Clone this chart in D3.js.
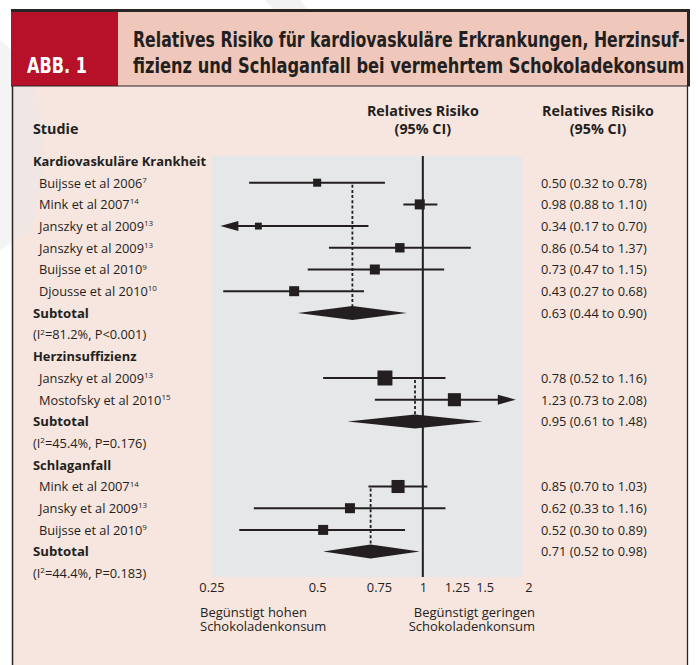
<!DOCTYPE html>
<html>
<head>
<meta charset="utf-8">
<script src="https://cdn.jsdelivr.net/npm/d3@7"></script>
<style>
  html, body { margin: 0; padding: 0; background: #ffffff; }
  svg { display: block; }
</style>
</head>
<body>
<svg id="chart" width="699" height="665"></svg>
<script>
// ---------------- DATA ----------------
const figureLabel = "ABB. 1";
const titleLines = [
  "Relatives Risiko für kardiovaskuläre Erkrankungen, Herzinsuf-",
  "fizienz und Schlaganfall bei vermehrtem Schokoladekonsum"
];
const studyHeader = "Studie";
const rrHeader = ["Relatives Risiko", "(95% CI)"];

const groupNames = ["Kardiovaskuläre Krankheit", "Herzinsuffizienz", "Schlaganfall"];

const studyNames = [
  ["Buijsse et al 2006", "Mink et al 2007", "Janszky et al 2009", "Janszky et al 2009", "Buijsse et al 2010", "Djousse et al 2010"],
  ["Janszky et al 2009", "Mostofsky et al 2010"],
  ["Mink et al 2007", "Jansky et al 2009", "Buijsse et al 2010"]
];
const studyRefs = [
  ["7", "14", "13", "13", "9", "10"],
  ["13", "15"],
  ["14", "13", "9"]
];
const studyRR = [
  [0.50, 0.98, 0.34, 0.86, 0.73, 0.43],
  [0.78, 1.23],
  [0.85, 0.62, 0.52]
];
const studyLo = [
  [0.32, 0.88, 0.17, 0.54, 0.47, 0.27],
  [0.52, 0.73],
  [0.70, 0.33, 0.30]
];
const studyHi = [
  [0.78, 1.10, 0.70, 1.37, 1.15, 0.68],
  [1.16, 2.08],
  [1.03, 1.16, 0.89]
];
// estimated study weights (marker area)
const studyWeights = [
  [11, 17, 8, 15, 17, 17],
  [38, 29],
  [29, 17, 17]
];

const subtotalLabel = "Subtotal";
const subtotalRR = [0.63, 0.95, 0.71];
const subtotalLo = [0.44, 0.61, 0.52];
const subtotalHi = [0.90, 1.48, 0.98];
const hetI2 = ["81.2%", "45.4%", "44.4%"];
const hetP = ["P<0.001", "P=0.176", "P=0.183"];

const tickValues = [0.25, 0.5, 0.75, 1, 1.25, 1.5, 2];
const tickLabels = ["0.25", "0.5", "0.75", "1", "1.25", "1.5", "2"];
const axisDomain = [0.25, 2];
const clipRange = [0.265, 1.84];   // where out-of-range CIs end in arrows

const favourLeft = ["Begünstigt hohen", "Schokoladenkonsum"];
const favourRight = ["Begünstigt geringen", "Schokoladenkonsum"];

// ---------------- STYLE ----------------
const C = {
  red: "#b7112a",
  headPink: "#efc8bb",
  panel: "#f7e5df",
  grey: "#e6e7e9",
  ink: "#231f20",
  border: "#2b2526"
};
const bodyFont = "'Open Sans', 'Noto Sans', sans-serif";
const titleFont = "'Liberation Sans Narrow', 'DejaVu Sans Condensed', 'Roboto', sans-serif";

// ---------------- BUILD ROWS ----------------
const rows = [];
groupNames.forEach((g, gi) => {
  rows.push({ type: "group", label: g, gi });
  studyNames[gi].forEach((n, si) => {
    rows.push({ type: "study", label: n, ref: studyRefs[gi][si], rr: studyRR[gi][si],
      lo: studyLo[gi][si], hi: studyHi[gi][si], w: studyWeights[gi][si], gi, si });
  });
  rows.push({ type: "subtotal", label: subtotalLabel, rr: subtotalRR[gi], lo: subtotalLo[gi], hi: subtotalHi[gi], gi });
  rows.push({ type: "het", gi });
});

// ---------------- LAYOUT ----------------
const svg = d3.select("#chart");
const W = 699, H = 665;
const rowTop = 161, rowStep = 21.7;
const y = i => rowTop + i * rowStep;
const plot = { x0: 211.5, x1: 522, y0: 156, y1: 577 };

const x = d3.scaleLog().base(2).domain(axisDomain).range([211.5, 528.5]);
const size = d3.scaleSqrt().domain([0, 17]).range([0, 10]);
const fmt = d3.format(".2f");

// panel background
svg.append("rect").attr("x", 12).attr("y", 86).attr("width", 675).attr("height", H - 86).attr("fill", C.panel);

// faint watermark shapes
const wm = svg.append("g").attr("opacity", 0.5);
wm.append("path").attr("d", "M0,40 C40,70 60,150 30,230 L0,250 Z").attr("fill", "#e9e9ea");
wm.append("path").attr("d", "M265,0 L300,0 L330,40 L300,40 Z").attr("fill", "#e6e6e7");

// header
svg.append("rect").attr("x", 11).attr("y", 12).attr("width", 107).attr("height", 74).attr("fill", C.red);
svg.append("rect").attr("x", 118).attr("y", 12).attr("width", 570).attr("height", 74).attr("fill", C.headPink);
svg.append("rect").attr("x", 11).attr("y", 9).attr("width", 679).attr("height", 3).attr("fill", C.border);
svg.append("rect").attr("x", 687).attr("y", 9).attr("width", 3).attr("height", 77).attr("fill", C.border);
svg.append("line").attr("x1", 11).attr("x2", 690).attr("y1", 86).attr("y2", 86).attr("stroke", C.border).attr("stroke-width", 1.2);
svg.append("line").attr("x1", 12.5).attr("x2", 12.5).attr("y1", 86).attr("y2", H).attr("stroke", C.border).attr("stroke-width", 1.5);
svg.append("line").attr("x1", 687.5).attr("x2", 687.5).attr("y1", 86).attr("y2", H).attr("stroke", C.border).attr("stroke-width", 1.3);

// fit a text horizontally into a given width by font size, then stretch vertically
function fitText(sel, x0, baseline, width, fs) {
  sel.attr("font-size", fs);
  const L = sel.node().getComputedTextLength();
  const k = width / L;
  const fs2 = fs * k;
  const sy = fs / fs2;
  sel.attr("font-size", fs2).attr("x", 0).attr("y", 0)
    .attr("transform", `translate(${x0},${baseline}) scale(1,${sy})`);
}
const abb = svg.append("text").attr("fill", "#fff")
  .attr("font-family", titleFont).attr("font-weight", "bold").text(figureLabel);
fitText(abb, 27, 73, 60, 22);
titleLines.forEach((t, i) => {
  const tt = svg.append("text").attr("fill", C.ink)
    .attr("font-family", titleFont).attr("font-weight", "bold").text(t);
  fitText(tt, 133, 47 + i * 26, 552, 22);
});

// column headers
const hdr = svg.append("g").attr("font-family", bodyFont).attr("font-weight", "bold")
  .attr("font-size", 14.3).attr("fill", C.ink);
hdr.append("text").attr("x", 33).attr("y", 134).text(studyHeader);
rrHeader.forEach((t, i) => {
  hdr.append("text").attr("x", x(1)).attr("y", 116 + i * 17.5).attr("text-anchor", "middle").text(t);
  hdr.append("text").attr("x", 598).attr("y", 116 + i * 17.5).attr("text-anchor", "middle").text(t);
});

// plot area
svg.append("rect").attr("x", plot.x0).attr("y", plot.y0).attr("width", plot.x1 - plot.x0)
  .attr("height", plot.y1 - plot.y0).attr("fill", C.grey);

// dashed subtotal reference lines
groupNames.forEach((g, gi) => {
  const first = rows.findIndex(r => r.type === "study" && r.gi === gi);
  const sub = rows.findIndex(r => r.type === "subtotal" && r.gi === gi);
  svg.append("line").attr("x1", x(subtotalRR[gi])).attr("x2", x(subtotalRR[gi]))
    .attr("y1", y(first) + 2).attr("y2", y(sub) - 6)
    .attr("stroke", C.ink).attr("stroke-width", 1.8).attr("stroke-dasharray", "3,2.2");
});

// null line
svg.append("line").attr("x1", x(1)).attr("x2", x(1)).attr("y1", plot.y0).attr("y2", plot.y1)
  .attr("stroke", C.ink).attr("stroke-width", 2);

// text group for labels
const lab = svg.append("g").attr("font-family", bodyFont).attr("font-size", 12.8).attr("fill", C.ink);
const groupFs = 12.9, subFs = 13.2;
const dyText = 4.8;

rows.forEach((r, i) => {
  const yy = y(i);
  if (r.type === "group") {
    lab.append("text").attr("x", 33).attr("y", yy + dyText).attr("font-weight", "bold").attr("font-size", groupFs).text(r.label);
  } else if (r.type === "study") {
    const t = lab.append("text").attr("x", 39).attr("y", yy + dyText);
    t.append("tspan").text(r.label);
    t.append("tspan").attr("font-size", 8).attr("dy", -4.8).text(r.ref);
    lab.append("text").attr("x", 541).attr("y", yy + dyText)
      .text(`${fmt(r.rr)} (${fmt(r.lo)} to ${fmt(r.hi)})`);
    // CI line
    const lo = Math.max(r.lo, clipRange[0]), hi = Math.min(r.hi, clipRange[1]);
    const arrowL = r.lo < clipRange[0], arrowR = r.hi > clipRange[1];
    const aLen = 18, aH = 5;
    svg.append("line").attr("x1", x(lo) + (arrowL ? aLen - 2 : 0)).attr("x2", x(hi) - (arrowR ? aLen - 2 : 0))
      .attr("y1", yy).attr("y2", yy).attr("stroke", C.ink).attr("stroke-width", 2);
    if (arrowL) {
      const tx = x(lo);
      svg.append("path").attr("d", `M${tx},${yy} L${tx + aLen},${yy - aH} L${tx + aLen},${yy + aH} Z`).attr("fill", C.ink);
    }
    if (arrowR) {
      const tx = x(hi);
      svg.append("path").attr("d", `M${tx},${yy} L${tx - aLen},${yy - aH} L${tx - aLen},${yy + aH} Z`).attr("fill", C.ink);
    }
    const s = size(r.w);
    svg.append("rect").attr("x", x(r.rr) - s / 2).attr("y", yy - s / 2).attr("width", s).attr("height", s).attr("fill", C.ink);
  } else if (r.type === "subtotal") {
    lab.append("text").attr("x", 33).attr("y", yy + dyText).attr("font-weight", "bold").attr("font-size", subFs).text(r.label);
    lab.append("text").attr("x", 541).attr("y", yy + dyText)
      .text(`${fmt(r.rr)} (${fmt(r.lo)} to ${fmt(r.hi)})`);
    const h = 7;
    svg.append("path")
      .attr("d", `M${x(r.lo)},${yy} L${x(r.rr)},${yy - h} L${x(r.hi)},${yy} L${x(r.rr)},${yy + h} Z`)
      .attr("fill", C.ink);
  } else if (r.type === "het") {
    const t = lab.append("text").attr("x", 33).attr("y", yy + dyText);
    t.append("tspan").text("(I");
    t.append("tspan").attr("font-size", 8).attr("dy", -4.8).text("2");
    t.append("tspan").attr("dy", 4.8).text(`=${hetI2[r.gi]}, ${hetP[r.gi]})`);
  }
});

// axis
const axis = d3.axisBottom(x).tickValues(tickValues).tickSize(0).tickPadding(0)
  .tickFormat((d, i) => tickLabels[i]);
const ag = svg.append("g").attr("transform", "translate(0,583)").call(axis);
ag.select(".domain").remove();
ag.selectAll("text").attr("font-family", bodyFont).attr("font-size", 12.8).attr("fill", C.ink);

// favour labels (two-line texts)
function twoLine(lines, x0, anchor) {
  const t = lab.append("text").attr("x", x0).attr("y", 617).attr("text-anchor", anchor).attr("font-size", 13);
  lines.forEach((s, i) => t.append("tspan").attr("x", x0).attr("dy", i === 0 ? 0 : 14).text(s));
}
twoLine(favourLeft, 200, "start");
twoLine(favourRight, 535, "end");
</script>
</body>
</html>
